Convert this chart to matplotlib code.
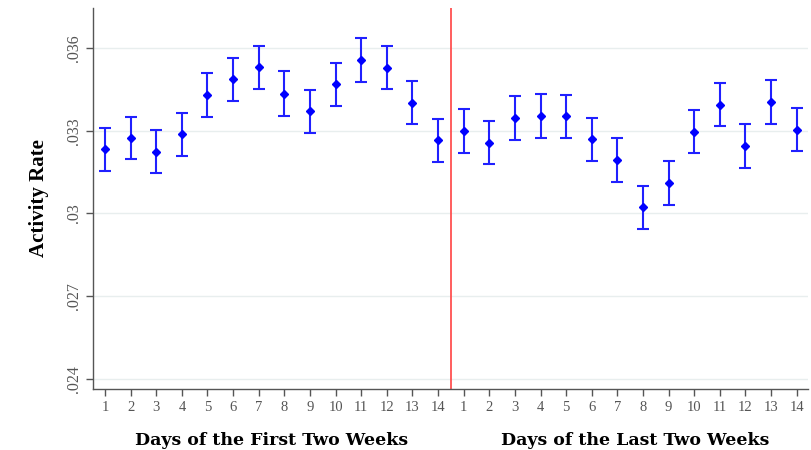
import numpy as np
import matplotlib.pyplot as plt

# activity rate per day (first two weeks, then last two weeks)
first_rate = [0.03233, 0.03274, 0.03223, 0.03287, 0.03429, 0.03486, 0.03531,
              0.03435, 0.03370, 0.03469, 0.03558, 0.03529, 0.03401, 0.03265]
last_rate = [0.03300, 0.03256, 0.03347, 0.03354, 0.03352, 0.03269, 0.03194,
             0.03022, 0.03111, 0.03296, 0.03395, 0.03244, 0.03405, 0.03304]
first_err = [0.00078, 0.00077, 0.00078, 0.00079, 0.00079, 0.00079, 0.00078,
             0.00080, 0.00078, 0.00078, 0.00080, 0.00079, 0.00078, 0.00079]
last_err = [0.00079, 0.00078, 0.00079, 0.00080, 0.00079, 0.00078, 0.00079,
            0.00078, 0.00079, 0.00078, 0.00079, 0.00079, 0.00079, 0.00078]
day_labels = [str(d) for d in range(1, 15)]
y_ticks = [0.024, 0.027, 0.030, 0.033, 0.036]
y_ticklabels = [".024", ".027", ".03", ".033", ".036"]


def main():
    rate = np.array(first_rate + last_rate)
    err = np.array(first_err + last_err)
    x = np.arange(1, len(rate) + 1)

    fig = plt.figure(figsize=(8.12, 4.5), dpi=100)
    ax = fig.add_axes([0.1142, 0.1356, 0.8808, 0.8464])

    for t in y_ticks:
        ax.axhline(t, color="#e8eeee", lw=1.0, zorder=0)
    ax.axvline(14.5, color="#ff5050", lw=1.3, zorder=1)

    ax.errorbar(x, rate, yerr=err, fmt="D", color="#0000ff", ms=4,
                ecolor="#2020ff", elinewidth=1.5, capsize=4, capthick=1.5,
                zorder=3)

    ax.set_xlim(0.52, 28.44)
    ax.set_ylim(0.02363, 0.03745)
    ax.set_xticks(x)
    ax.set_xticklabels(day_labels + day_labels, family="Liberation Serif",
                       fontsize=10.5, color="#555555")
    ax.set_yticks(y_ticks)
    ax.set_yticklabels(y_ticklabels, family="Liberation Serif", fontsize=11.5,
                       color="#555555", rotation=90, va="center")

    for s in ["top", "right"]:
        ax.spines[s].set_visible(False)
    for s in ["left", "bottom"]:
        ax.spines[s].set_color("#555555")
        ax.spines[s].set_linewidth(1.0)
    ax.tick_params(axis="both", colors="#555555", length=5, width=1.0)
    ax.tick_params(axis="x", pad=4)
    ax.tick_params(axis="y", pad=3)

    ax.set_ylabel("Activity Rate", family="Liberation Serif", fontweight="bold",
                  fontsize=15, labelpad=12)

    ax.text(7.5, -0.135, "Days of the First Two Weeks", transform=ax.get_xaxis_transform(),
            ha="center", va="center", family="DejaVu Serif", fontweight="bold",
            fontsize=12.5)
    ax.text(21.7, -0.135, "Days of the Last Two Weeks", transform=ax.get_xaxis_transform(),
            ha="center", va="center", family="DejaVu Serif", fontweight="bold",
            fontsize=12.5)

    fig.savefig("out.png", dpi=100)


if __name__ == "__main__":
    main()
